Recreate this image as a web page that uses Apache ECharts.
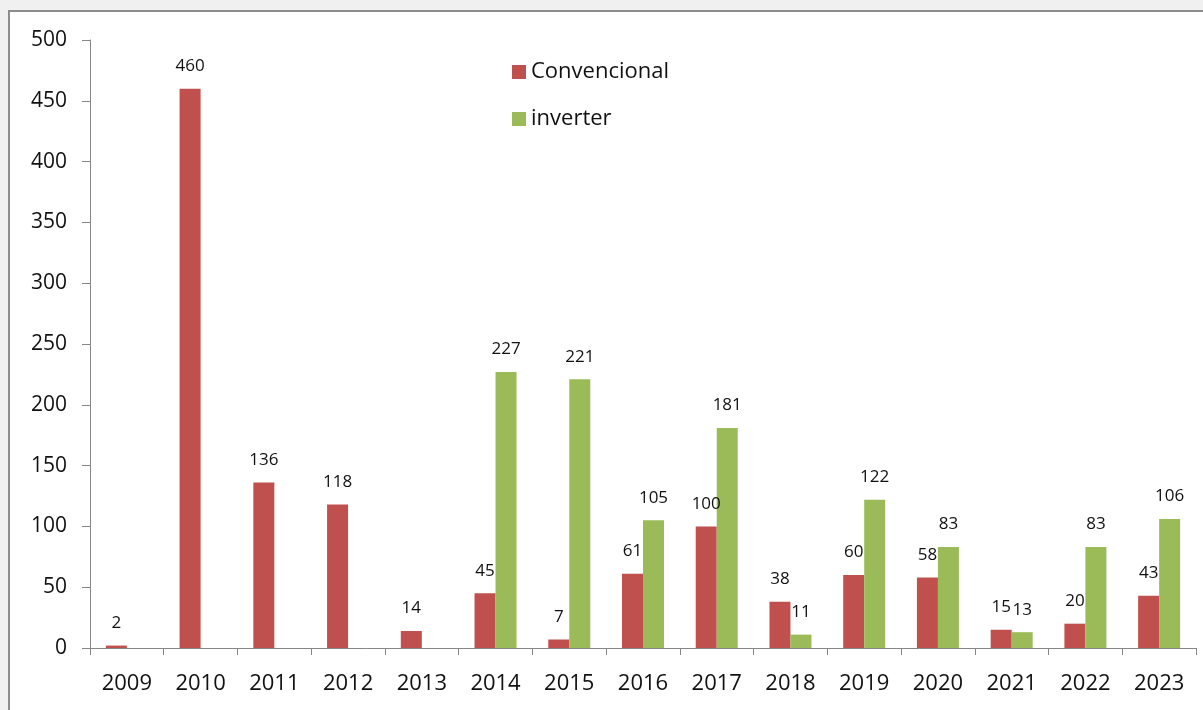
<!DOCTYPE html>
<html>
<head>
<meta charset="utf-8">
<script src="https://cdn.jsdelivr.net/npm/echarts@6/dist/echarts.min.js"></script>
<style>
    html, body { margin: 0; padding: 0; background: #f0f0f0; overflow: hidden; }
    #frame { position: absolute; left: 8px; top: 10px; width: 1200px; height: 710px; background: #fff; border: 2px solid #8c8c8c; }
    #chart { position: absolute; left: 0; top: 0; width: 1203px; height: 710px; }
</style>
</head>
<body>
<div id="frame"></div>
<div id="chart"></div>
<script>
var years = ['2009', '2010', '2011', '2012', '2013', '2014', '2015', '2016', '2017', '2018', '2019', '2020', '2021', '2022', '2023'];
var convencional = [2, 460, 136, 118, 14, 45, 7, 61, 100, 38, 60, 58, 15, 20, 43];
var inverter = [null, null, null, null, null, 227, 221, 105, 181, 11, 122, 83, 13, 83, 106];

var fontFam = '"Open Sans", "Noto Sans", sans-serif';
var chart = echarts.init(document.getElementById('chart'));

chart.setOption({
    animation: false,
    textStyle: { fontFamily: fontFam },
    grid: { left: 90, top: 40, right: 7, bottom: 62, containLabel: false },
    legend: {
        orient: 'vertical',
        left: 507,
        top: 56,
        itemWidth: 14,
        itemHeight: 14,
        itemGap: 25,
        icon: 'rect',
        textStyle: { fontSize: 22, color: '#111', fontFamily: fontFam },
        data: ['Convencional', 'inverter']
    },
    xAxis: {
        type: 'category',
        data: years,
        axisLine: { lineStyle: { color: '#868686', width: 1 } },
        axisTick: { show: true, length: 7, lineStyle: { color: '#868686' } },
        axisLabel: { fontSize: 22, color: '#111', margin: 25, fontFamily: fontFam }
    },
    yAxis: {
        type: 'value',
        min: 0,
        max: 500,
        interval: 50,
        splitLine: { show: false },
        axisLine: { show: true, lineStyle: { color: '#868686', width: 1 } },
        axisTick: { show: true, length: 8, lineStyle: { color: '#868686' } },
        axisLabel: { fontSize: 21, color: '#111', margin: 23, fontFamily: fontFam }
    },
    series: [
        {
            name: 'Convencional',
            type: 'bar',
            data: convencional,
            barWidth: 21,
            barGap: '0%',
            itemStyle: { color: '#c0504d' },
            label: { show: true, position: 'top', distance: 14, fontSize: 17, color: '#111' }
        },
        {
            name: 'inverter',
            type: 'bar',
            data: inverter,
            barWidth: 21,
            barGap: '0%',
            itemStyle: { color: '#9bbb59' },
            label: { show: true, position: 'top', distance: 14, fontSize: 17, color: '#111' }
        }
    ]
});

window.addEventListener('resize', function () {
    chart.resize();
});
</script>
</body>
</html>
